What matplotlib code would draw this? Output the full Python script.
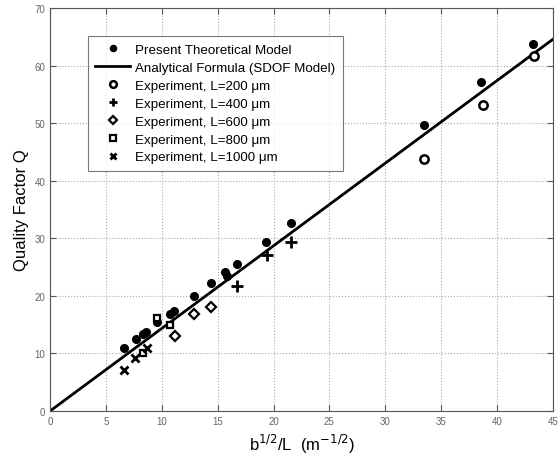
import numpy as np
import matplotlib
matplotlib.use('Agg')
import matplotlib.pyplot as plt

plt.rcParams['font.family'] = ['Liberation Sans', 'DejaVu Sans']

# Present theoretical model (filled circles)
theo_x = [6.65, 7.7, 8.35, 8.6, 9.6, 10.7, 11.1, 12.9, 14.4, 15.7, 15.8, 16.7, 19.3, 21.6, 33.45, 38.6, 43.2]
theo_y = [10.9, 12.5, 13.4, 13.8, 15.5, 16.8, 17.4, 19.9, 22.2, 24.1, 23.5, 25.5, 29.3, 32.7, 49.6, 57.1, 63.7]

# experiments
l200_x = [33.45, 38.7, 43.3]
l200_y = [43.8, 53.2, 61.6]
l400_x = [16.7, 19.4, 21.6]
l400_y = [21.7, 27.1, 29.4]
l600_x = [11.2, 12.9, 14.4]
l600_y = [13.1, 16.8, 18.0]
l800_x = [8.3, 9.6, 10.7]
l800_y = [10.1, 16.1, 14.9]
l1000_x = [6.65, 7.6, 8.65]
l1000_y = [7.1, 9.2, 10.9]

# analytical formula (SDOF) - straight line through origin
slope = 1.435
line_x = np.array([0, 45])

fig = plt.figure(figsize=(5.58, 4.64), dpi=100)
ax = fig.add_axes([0.0896, 0.112, 0.9014, 0.8686])

ax.plot(theo_x, theo_y, 'o', color='k', ms=5.5, label='Present Theoretical Model', zorder=3)
ax.plot(line_x, slope * line_x, '-', color='k', lw=2, label='Analytical Formula (SDOF Model)', zorder=2)
ax.plot(l200_x, l200_y, 'o', mfc='white', mec='k', mew=1.8, ms=6, ls='none',
        label='Experiment, L=200 μm', zorder=3)
ax.plot(l400_x, l400_y, '+', color='k', mew=2, ms=8, ls='none',
        label='Experiment, L=400 μm', zorder=3)
ax.plot(l600_x, l600_y, 'D', mfc='white', mec='k', mew=1.6, ms=5, ls='none',
        label='Experiment, L=600 μm', zorder=3)
ax.plot(l800_x, l800_y, 's', mfc='white', mec='k', mew=1.6, ms=5, ls='none',
        label='Experiment, L=800 μm', zorder=3)
ax.plot(l1000_x, l1000_y, 'x', color='k', mew=2, ms=6, ls='none',
        label='Experiment, L=1000 μm', zorder=3)

ax.set_xlim(0, 45)
ax.set_ylim(0, 70)
ax.set_xticks(range(0, 46, 5))
ax.set_yticks(range(0, 71, 10))
ax.grid(True, ls=':', color='#aaaaaa', lw=0.8)
ax.tick_params(direction='in', top=True, right=True, labelsize=7,
               labelcolor='#666666', length=4, color='#555555')
for s in ax.spines.values():
    s.set_color('#555555')

ax.set_xlabel(r'b$^{1/2}$/L  (m$^{-1/2}$)', fontsize=12)
ax.set_ylabel('Quality Factor Q', fontsize=12)

leg = ax.legend(loc='upper left', bbox_to_anchor=(0.0755, 0.93), fontsize=9.6,
                frameon=True, fancybox=False, edgecolor='#555555',
                handlelength=2.6, labelspacing=0.42, borderpad=0.55,
                borderaxespad=0, markerscale=0.8, handletextpad=0.4)
leg.get_frame().set_linewidth(0.8)

fig.savefig('out.png', dpi=100)
